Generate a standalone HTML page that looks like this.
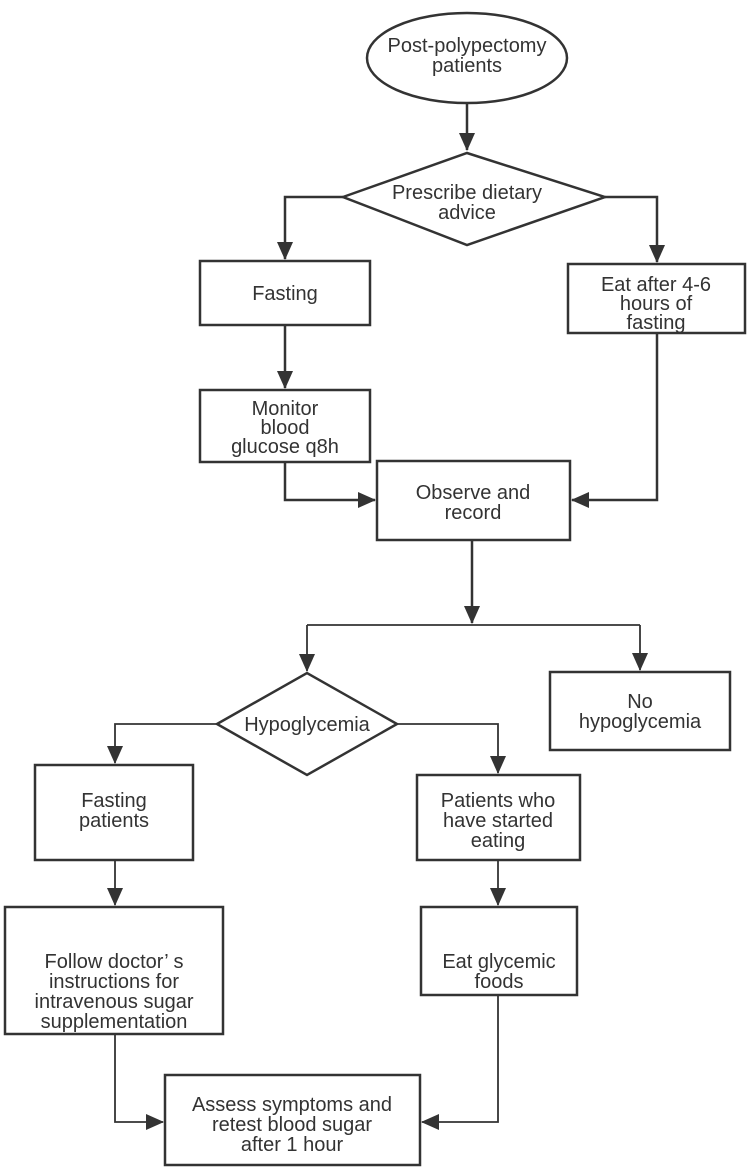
<!DOCTYPE html>
<html><head><meta charset="utf-8"><style>
html,body{margin:0;padding:0;background:#fff;}
svg{display:block;}
text{font-family:"Liberation Sans",sans-serif;font-size:20px;fill:#333;text-anchor:middle;}
</style></head><body>
<svg width="750" height="1173" viewBox="0 0 750 1173" xmlns="http://www.w3.org/2000/svg">
<defs>
<marker id="b" markerWidth="18" markerHeight="16" refX="17" refY="8" orient="auto" markerUnits="userSpaceOnUse"><path d="M0,0 L18,8 L0,16 Z" fill="#333"/></marker></defs>
<g stroke="#333" stroke-width="2.5" fill="none">
<ellipse cx="467" cy="58" rx="100" ry="45" fill="#fff"/>
<polygon points="343,197 467,153 605,197 467,245" fill="#fff"/>
<rect x="200" y="261" width="170" height="64"/>
<rect x="568" y="264" width="177" height="69"/>
<rect x="200" y="390" width="170" height="72"/>
<rect x="377" y="461" width="193" height="79"/>
<polygon points="217,724 307,673 397,724 307,775" fill="#fff"/>
<rect x="550" y="672" width="180" height="78"/>
<rect x="35" y="765" width="158" height="95"/>
<rect x="417" y="775" width="163" height="85"/>
<rect x="5" y="907" width="218" height="127"/>
<rect x="421" y="907" width="156" height="88"/>
<rect x="165" y="1075" width="255" height="90"/>
<g stroke-width="2.5">
<path d="M467,103 V150" marker-end="url(#b)"/>
<path d="M343,197 H285 V259" marker-end="url(#b)"/>
<path d="M605,197 H657 V262" marker-end="url(#b)"/>
<path d="M285,325 V388" marker-end="url(#b)"/>
<path d="M285,462 V500 H375" marker-end="url(#b)"/>
<path d="M657,333 V500 H572" marker-end="url(#b)"/>
<path d="M472,540 V623" marker-end="url(#b)"/>
</g>
<g stroke-width="1.8">
<path d="M307,625 H640"/>
<path d="M307,625 V671" marker-end="url(#b)"/>
<path d="M640,625 V670" marker-end="url(#b)"/>
<path d="M217,724 H115 V763" marker-end="url(#b)"/>
<path d="M397,724 H498 V773" marker-end="url(#b)"/>
<path d="M115,860 V905" marker-end="url(#b)"/>
<path d="M498,860 V905" marker-end="url(#b)"/>
<path d="M115,1034 V1122 H163" marker-end="url(#b)"/>
<path d="M498,995 V1122 H422" marker-end="url(#b)"/>
</g>
</g>
<text x="467" y="52">Post-polypectomy</text><text x="467" y="72">patients</text>
<text x="467" y="199">Prescribe dietary</text><text x="467" y="219">advice</text>
<text x="285" y="300">Fasting</text>
<text x="656" y="291">Eat after 4-6</text><text x="656" y="310">hours of</text><text x="656" y="329">fasting</text>
<text x="285" y="415">Monitor</text><text x="285" y="434">blood</text><text x="285" y="453">glucose q8h</text>
<text x="473" y="499">Observe and</text><text x="473" y="519">record</text>
<text x="307" y="731">Hypoglycemia</text>
<text x="640" y="708">No</text><text x="640" y="728">hypoglycemia</text>
<text x="114" y="807">Fasting</text><text x="114" y="827">patients</text>
<text x="498" y="807">Patients who</text><text x="498" y="827">have started</text><text x="498" y="847">eating</text>
<text x="114" y="968">Follow doctor’ s</text><text x="114" y="988">instructions for</text><text x="114" y="1008">intravenous sugar</text><text x="114" y="1028">supplementation</text>
<text x="499" y="968">Eat glycemic</text><text x="499" y="988">foods</text>
<text x="292" y="1111">Assess symptoms and</text><text x="292" y="1131">retest blood sugar</text><text x="292" y="1151">after 1 hour</text>
</svg>
</body></html>
